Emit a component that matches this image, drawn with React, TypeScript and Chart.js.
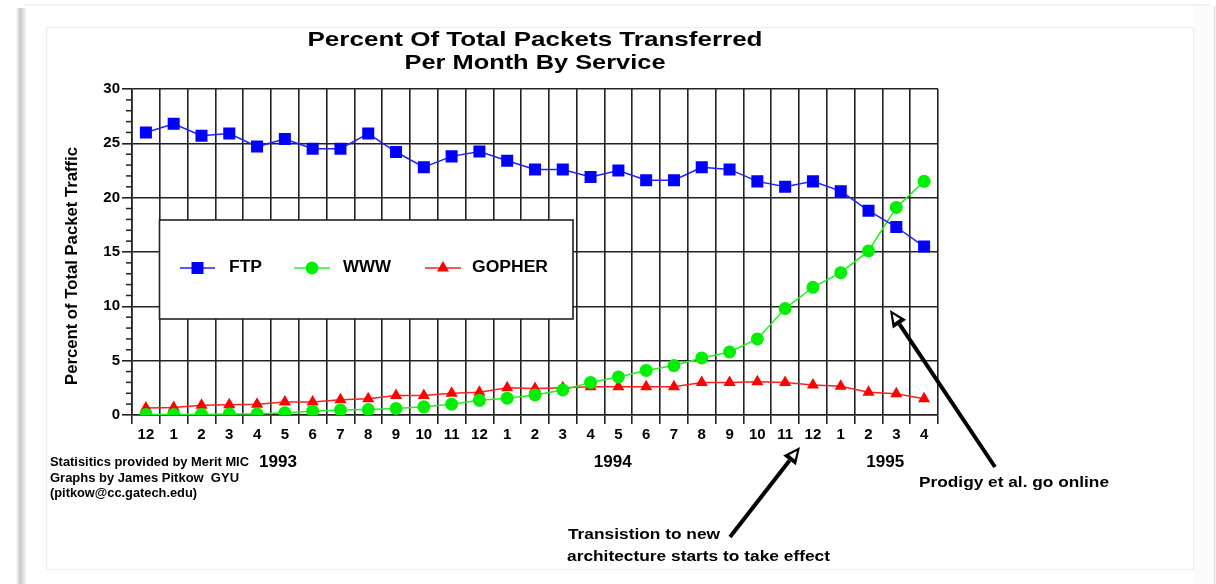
import React, { useEffect, useRef } from "react";
import { Chart, registerables } from "chart.js";

Chart.register(...registerables);

const months = ["12","1","2","3","4","5","6","7","8","9","10","11","12","1","2","3","4","5","6","7","8","9","10","11","12","1","2","3","4"];
const ftp = [26.0,26.8,25.7,25.9,24.7,25.4,24.5,24.5,25.9,24.2,22.8,23.8,24.25,23.4,22.6,22.6,21.9,22.5,21.6,21.6,22.8,22.6,21.5,21.0,21.5,20.6,18.8,17.3,15.5];
const www = [0.05,0.05,0.05,0.1,0.1,0.2,0.35,0.45,0.5,0.6,0.75,1.0,1.35,1.55,1.85,2.3,3.0,3.5,4.1,4.55,5.25,5.8,7.0,9.8,11.75,13.1,15.1,19.1,21.5];
const gopher = [0.65,0.7,0.9,0.95,1.0,1.2,1.2,1.4,1.5,1.8,1.8,2.0,2.1,2.5,2.45,2.5,2.6,2.6,2.6,2.6,3.0,3.0,3.05,3.0,2.75,2.65,2.1,1.95,1.5];
const seriesNames = ["FTP", "WWW", "GOPHER"];
const yearLabels = ["1993", "1994", "1995"];
const titleLines = ["Percent Of Total Packets Transferred", "Per Month By Service"];
const yTitle = "Percent of Total Packet Traffic";
const credits = ["Statisitics provided by Merit MIC", "Graphs by James Pitkow  GYU", "(pitkow@cc.gatech.edu)"];
const note1 = ["Transistion to new", "architecture starts to take effect"];
const note2 = "Prodigy et al. go online";

const FONT = "'Liberation Sans', Arial, sans-serif";
const GRID = "#222222";

function fitText(ctx: CanvasRenderingContext2D, text: string, x: number, y: number, w: number, font: string, align: CanvasTextAlign = "left", rot = 0) {
  ctx.save();
  ctx.font = font;
  const m = ctx.measureText(text).width;
  const s = w / m;
  ctx.translate(x, y);
  if (rot) ctx.rotate(rot);
  ctx.scale(s, 1);
  ctx.textAlign = align;
  ctx.textBaseline = "middle";
  ctx.fillStyle = "#000";
  ctx.fillText(text, 0, 0);
  ctx.restore();
}

function drawArrow(ctx: CanvasRenderingContext2D, x1: number, y1: number, x2: number, y2: number) {
  const ang = Math.atan2(y2 - y1, x2 - x1);
  const hl = 17, hw = 8;
  const bx = x2 - Math.cos(ang) * hl, by = y2 - Math.sin(ang) * hl;
  ctx.save();
  ctx.strokeStyle = "#000";
  ctx.lineWidth = 4;
  ctx.beginPath();
  ctx.moveTo(x1, y1);
  ctx.lineTo(bx, by);
  ctx.stroke();
  const px = -Math.sin(ang), py = Math.cos(ang);
  ctx.fillStyle = "#000";
  ctx.beginPath();
  ctx.moveTo(x2, y2);
  ctx.lineTo(bx + px * hw, by + py * hw);
  ctx.lineTo(bx - px * hw, by - py * hw);
  ctx.closePath();
  ctx.fill();
  const ix = x2 - Math.cos(ang) * 5, iy = y2 - Math.sin(ang) * 5;
  const jx = x2 - Math.cos(ang) * 13, jy = y2 - Math.sin(ang) * 13;
  ctx.fillStyle = "#fff";
  ctx.beginPath();
  ctx.moveTo(ix, iy);
  ctx.lineTo(jx + px * 3.5, jy + py * 3.5);
  ctx.lineTo(jx - px * 3.5, jy - py * 3.5);
  ctx.closePath();
  ctx.fill();
  ctx.restore();
}

const framePlugin = {
  id: "frame",
  beforeDraw(chart: any) {
    const ctx = chart.ctx as CanvasRenderingContext2D;
    const W = chart.width, H = chart.height;
    ctx.save();
    ctx.fillStyle = "#ffffff";
    ctx.fillRect(0, 0, W, H);
    const g = ctx.createLinearGradient(16, 0, 26, 0);
    g.addColorStop(0, "#ffffff");
    g.addColorStop(0.4, "#c8c8c8");
    g.addColorStop(1, "#f4f4f4");
    ctx.fillStyle = g;
    ctx.fillRect(16, 8, 10, H - 8);
    ctx.fillStyle = "#f2f2f2";
    ctx.fillRect(25, 4, W - 30, 2);
    ctx.fillStyle = "#fbfbfb";
    ctx.fillRect(1194, 6, 20, H - 6);
    ctx.fillStyle = "#e2e2e2";
    ctx.fillRect(1214, 6, 1.5, H - 6);
    ctx.fillStyle = "#ffffff";
    ctx.fillRect(46, 27, 1148, 542);
    ctx.strokeStyle = "#eeeeee";
    ctx.lineWidth = 1;
    ctx.strokeRect(46.5, 27.5, 1147, 542);
    ctx.restore();
  },
};

const decorPlugin = {
  id: "decor",
  beforeDatasetsDraw(chart: any) {
    const ctx = chart.ctx as CanvasRenderingContext2D;
    const y = chart.scales.y;
    ctx.save();
    ctx.strokeStyle = GRID;
    ctx.lineWidth = 1.5;
    for (let v = 0; v <= 30; v++) {
      if (v % 5 === 0) continue;
      const py = y.getPixelForValue(v);
      ctx.beginPath();
      ctx.moveTo(y.right - 6, py);
      ctx.lineTo(y.right, py);
      ctx.stroke();
    }
    const ds = chart.data.datasets;
    const bx = 159.5, by = 220, bw = 413.5, bh = 99;
    ctx.fillStyle = "#fff";
    ctx.fillRect(bx, by, bw, bh);
    ctx.strokeStyle = GRID;
    ctx.lineWidth = 1.6;
    ctx.strokeRect(bx, by, bw, bh);
    const ly = 268;
    const items = [
      { x1: 180, x2: 215, tx: 229, tw: 33 },
      { x1: 294, x2: 330, tx: 343, tw: 48 },
      { x1: 425, x2: 461, tx: 472, tw: 76 },
    ];
    items.forEach((it, i) => {
      const d = ds[i];
      ctx.strokeStyle = d.borderColor;
      ctx.lineWidth = 1.5;
      ctx.beginPath();
      ctx.moveTo(it.x1, ly);
      ctx.lineTo(it.x2, ly);
      ctx.stroke();
      const cx = (it.x1 + it.x2) / 2;
      ctx.fillStyle = d.pointBackgroundColor;
      ctx.beginPath();
      if (d.pointStyle === "rect") {
        ctx.rect(cx - 6, ly - 6, 12, 12);
      } else if (d.pointStyle === "circle") {
        ctx.arc(cx, ly, 6.5, 0, Math.PI * 2);
      } else {
        const r = 7;
        ctx.moveTo(cx, ly - r);
        ctx.lineTo(cx + r * 0.866, ly + r * 0.5);
        ctx.lineTo(cx - r * 0.866, ly + r * 0.5);
        ctx.closePath();
      }
      ctx.fill();
      fitText(ctx, seriesNames[i], it.tx, ly, it.tw, `bold 16px ${FONT}`);
    });
    ctx.restore();
  },
  afterDraw(chart: any) {
    const ctx = chart.ctx as CanvasRenderingContext2D;
    const x = chart.scales.x;
    const ca = chart.chartArea;
    const cx = (ca.left + ca.right) / 2;
    fitText(ctx, titleLines[0], cx, 40, 455, `bold 21px ${FONT}`, "center");
    fitText(ctx, titleLines[1], cx, 63, 261, `bold 21px ${FONT}`, "center");
    fitText(ctx, yTitle, 73, 266, 238, `bold 16px ${FONT}`, "center", -Math.PI / 2);
    const yearIdx = [4.75, 16.8, 26.6];
    yearLabels.forEach((t, i) => {
      fitText(ctx, t, x.getPixelForValue(yearIdx[i]), 463, 38, `bold 16px ${FONT}`, "center");
    });
    const cw = [199, 189, 147];
    credits.forEach((t, i) => fitText(ctx, t, 50, 463 + i * 15.5, cw[i], `bold 12px ${FONT}`));
    fitText(ctx, note1[0], 568, 535, 152, `bold 15px ${FONT}`);
    fitText(ctx, note1[1], 567, 557, 263, `bold 15px ${FONT}`);
    fitText(ctx, note2, 919, 483, 190, `bold 15px ${FONT}`);
    drawArrow(ctx, 730, 537, 800, 447);
    drawArrow(ctx, 995, 467, 890, 310);
  },
};

export default function App() {
  const ref = useRef<HTMLCanvasElement>(null);
  useEffect(() => {
    if (!ref.current) return;
    const chart = new Chart(ref.current, {
      type: "line",
      data: {
        labels: months,
        datasets: [
          {
            label: seriesNames[0],
            data: ftp,
            borderColor: "#2020ff",
            backgroundColor: "#0000ff",
            pointBackgroundColor: "#0000ff",
            pointBorderColor: "#0000ff",
            pointStyle: "rect",
            pointRadius: 8.5,
            pointBorderWidth: 0,
            borderWidth: 1.5,
            tension: 0,
          },
          {
            label: seriesNames[1],
            data: www,
            borderColor: "#22ee22",
            backgroundColor: "#00ee00",
            pointBackgroundColor: "#00ee00",
            pointBorderColor: "#00ee00",
            pointStyle: "circle",
            pointRadius: 6.5,
            pointBorderWidth: 0,
            borderWidth: 1.5,
            tension: 0,
          },
          {
            label: seriesNames[2],
            data: gopher,
            borderColor: "#ff2020",
            backgroundColor: "#ff0000",
            pointBackgroundColor: "#ff0000",
            pointBorderColor: "#ff0000",
            pointStyle: "triangle",
            pointRadius: 7,
            pointBorderWidth: 0,
            borderWidth: 1.5,
            tension: 0,
          },
        ],
      },
      options: {
        responsive: false,
        animation: false,
        layout: { padding: { top: 89, left: 0, right: 278, bottom: 0 } },
        plugins: { legend: { display: false }, title: { display: false }, tooltip: { enabled: false } },
        scales: {
          x: {
            type: "category",
            offset: true,
            grid: { offset: true, color: GRID, lineWidth: 1.6, tickLength: 9, tickColor: GRID },
            border: { color: GRID, width: 1.6 },
            ticks: {
              autoSkip: false,
              maxRotation: 0,
              minRotation: 0,
              padding: 2,
              color: "#000",
              font: { family: FONT, size: 15, weight: "bold" },
            },
            afterFit: (s: any) => { s.height = 169; },
          },
          y: {
            min: 0,
            max: 30,
            grid: { color: GRID, lineWidth: 1.6, tickLength: 10, tickColor: GRID },
            border: { color: GRID, width: 1.6 },
            ticks: {
              stepSize: 5,
              padding: 2,
              color: "#000",
              font: { family: FONT, size: 15, weight: "bold" },
            },
            afterFit: (s: any) => { s.width = 132; },
          },
        },
      },
      plugins: [framePlugin, decorPlugin],
    } as any);
    return () => chart.destroy();
  }, []);
  return (
    <div style={{ position: "absolute", left: 0, top: 0, width: 1216, height: 584 }}>
      <canvas ref={ref} width={1216} height={584} />
    </div>
  );
}
